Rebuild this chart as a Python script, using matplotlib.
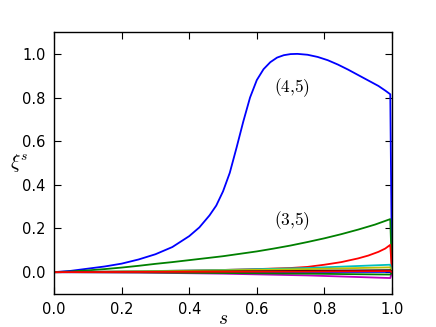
import matplotlib
matplotlib.use('Agg')
import matplotlib.pyplot as plt

plt.rcParams['mathtext.fontset'] = 'cm'
plt.rcParams['font.family'] = ['DejaVu Sans']

# (4,5) curve
s_45 = [0, 0.05, 0.1, 0.15, 0.2, 0.25, 0.3, 0.35, 0.4, 0.43, 0.46, 0.48, 0.5, 0.52,
        0.54, 0.56, 0.58, 0.6, 0.62, 0.64, 0.66, 0.68, 0.7, 0.72, 0.75, 0.78, 0.81,
        0.84, 0.87, 0.9, 0.93, 0.96, 0.98, 0.995, 1.0]
xi_45 = [0, 0.006, 0.016, 0.026, 0.039, 0.058, 0.082, 0.115, 0.165, 0.205, 0.26, 0.305,
         0.37, 0.455, 0.57, 0.69, 0.8, 0.88, 0.93, 0.962, 0.983, 0.994, 0.999, 1.0,
         0.996, 0.986, 0.971, 0.951, 0.928, 0.903, 0.878, 0.853, 0.832, 0.815, 0.0]

# (3,5) curve
s_35 = [0, 0.05, 0.1, 0.15, 0.2, 0.25, 0.3, 0.35, 0.4, 0.45, 0.5, 0.55, 0.6, 0.65,
        0.7, 0.75, 0.8, 0.85, 0.9, 0.95, 0.995, 1.0]
xi_35 = [0, 0.003, 0.008, 0.014, 0.021, 0.029, 0.038, 0.046, 0.055, 0.064, 0.073,
         0.084, 0.095, 0.108, 0.122, 0.138, 0.155, 0.174, 0.195, 0.218, 0.243, 0]

# third curve (red)
s_3 = [0, 0.1, 0.2, 0.3, 0.4, 0.5, 0.6, 0.7, 0.75, 0.8, 0.85, 0.9, 0.93, 0.96, 0.98,
       0.995, 1.0]
xi_3 = [0, 0.001, 0.003, 0.005, 0.007, 0.010, 0.014, 0.019, 0.024, 0.034, 0.046,
        0.063, 0.076, 0.093, 0.108, 0.125, 0]

# the small ones near zero
s_small = [0, 0.25, 0.5, 0.75, 0.995, 1.0]
small = [
    [0, 0.004, 0.010, 0.019, 0.034, 0],      # c
    [0, -0.002, -0.007, -0.015, -0.027, 0],  # m
    [0, 0.003, 0.008, 0.014, 0.022, 0],      # y
    [0, 0.001, 0.003, 0.006, 0.009, 0],      # k
    [0, 0.0, 0.0005, 0.001, 0.001, 0],       # b
    [0, -0.001, -0.004, -0.007, -0.011, 0],  # g
    [0, 0.001, 0.002, 0.003, 0.005, 0],      # r
]
small_colors = ['c', 'm', 'y', 'k', 'b', 'g', 'r']

fig = plt.figure(figsize=(4.36, 3.27), dpi=100)
ax = fig.add_axes([0.124, 0.101, 0.775, 0.801])

ax.plot(s_45, xi_45, color='b', lw=1.3)
ax.plot(s_35, xi_35, color='g', lw=1.3)
ax.plot(s_3, xi_3, color='r', lw=1.3)
for vals, c in zip(small, small_colors):
    ax.plot(s_small, vals, color=c, lw=1.3)

ax.text(0.705, 0.846, r'$(4{,}5)$', fontsize=12.5, ha='center', va='center')
ax.text(0.703, 0.238, r'$(3{,}5)$', fontsize=12.5, ha='center', va='center')

ax.set_xlim(0, 1)
ax.set_ylim(-0.1, 1.1)
ax.set_xticks([0.0, 0.2, 0.4, 0.6, 0.8, 1.0])
ax.set_yticks([0.0, 0.2, 0.4, 0.6, 0.8, 1.0])
ax.tick_params(direction='in', top=True, right=True, length=5, labelsize=10.5, pad=6)
for sp in ax.spines.values():
    sp.set_linewidth(1.0)
ax.set_xlabel(r'$s$', fontsize=14, va='center')
ax.xaxis.set_label_coords(0.5, -0.092)
ax.set_ylabel(r'$\xi^s$', fontsize=14, rotation=0, ha='center', va='center')
ax.yaxis.set_label_coords(-0.104, 0.5)

fig.savefig('out.png', dpi=100)
